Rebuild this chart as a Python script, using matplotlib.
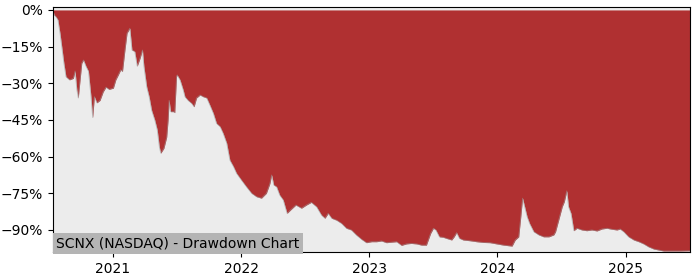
import matplotlib
matplotlib.use("Agg")
import matplotlib.pyplot as plt
import matplotlib.dates as mdates
import pandas as pd

dates = [
    "2020-07-14", "2020-07-17", "2020-07-22", "2020-07-28", "2020-08-03", "2020-08-08",
    "2020-08-14", "2020-08-20", "2020-08-30", "2020-09-10", "2020-09-15", "2020-09-20",
    "2020-09-24", "2020-10-04", "2020-10-09", "2020-10-16", "2020-10-23", "2020-10-30",
    "2020-11-04", "2020-11-09", "2020-11-16", "2020-11-25", "2020-12-04", "2020-12-12",
    "2020-12-21", "2021-01-02", "2021-01-09", "2021-01-16", "2021-01-23", "2021-01-28",
    "2021-02-04", "2021-02-10", "2021-02-18", "2021-02-24", "2021-03-04", "2021-03-11",
    "2021-03-19", "2021-03-26", "2021-03-30", "2021-04-07", "2021-04-14", "2021-04-21",
    "2021-04-30", "2021-05-07", "2021-05-13", "2021-05-17", "2021-05-26", "2021-06-03",
    "2021-06-07", "2021-06-10", "2021-06-14", "2021-06-22", "2021-06-26", "2021-07-01",
    "2021-07-03", "2021-07-11", "2021-07-20", "2021-07-25", "2021-08-03", "2021-08-13",
    "2021-08-20", "2021-08-27", "2021-09-06", "2021-09-15", "2021-09-25", "2021-10-04",
    "2021-10-14", "2021-10-23", "2021-11-02", "2021-11-11", "2021-11-21", "2021-11-30",
    "2021-12-10", "2021-12-19", "2022-01-02", "2022-01-16", "2022-01-31", "2022-02-14",
    "2022-02-28", "2022-03-14", "2022-03-24", "2022-03-29", "2022-04-04", "2022-04-12",
    "2022-04-21", "2022-05-01", "2022-05-12", "2022-05-22", "2022-06-06", "2022-06-22",
    "2022-07-06", "2022-07-20", "2022-08-04", "2022-08-18", "2022-08-28", "2022-09-06",
    "2022-09-16", "2022-09-30", "2022-10-14", "2022-10-28", "2022-11-11", "2022-11-25",
    "2022-12-10", "2022-12-24", "2023-01-08", "2023-01-22", "2023-02-05", "2023-02-19",
    "2023-03-05", "2023-03-20", "2023-04-03", "2023-04-17", "2023-05-01", "2023-05-16",
    "2023-05-30", "2023-06-13", "2023-06-25", "2023-07-03", "2023-07-10", "2023-07-20",
    "2023-07-31", "2023-08-08", "2023-08-24", "2023-08-31", "2023-09-07", "2023-09-15",
    "2023-09-26", "2023-10-15", "2023-11-03", "2023-11-22", "2023-12-11", "2023-12-30",
    "2024-01-19", "2024-02-12", "2024-02-21", "2024-03-02", "2024-03-07", "2024-03-13",
    "2024-03-19", "2024-03-26", "2024-04-02", "2024-04-14", "2024-04-28", "2024-05-12",
    "2024-05-27", "2024-06-10", "2024-06-15", "2024-06-24", "2024-07-04", "2024-07-10",
    "2024-07-17", "2024-07-22", "2024-07-29", "2024-08-06", "2024-08-15", "2024-08-29",
    "2024-09-12", "2024-09-26", "2024-10-11", "2024-10-25", "2024-11-08", "2024-11-22",
    "2024-12-07", "2024-12-16", "2024-12-26", "2025-01-09", "2025-01-24", "2025-02-07",
    "2025-02-21", "2025-03-07", "2025-03-22", "2025-04-05", "2025-04-19", "2025-05-08",
    "2025-06-06", "2025-07-03",
]

drawdown = [
    0.0, -2.0, -2.7, -4.0, -9.5, -15.0,
    -21.7, -27.3, -28.6, -28.0, -25.0, -32.7,
    -36.0, -21.8, -20.5, -23.0, -25.0, -35.0,
    -44.0, -35.5, -38.0, -37.0, -33.5, -31.6,
    -32.5, -32.0, -28.6, -26.6, -24.5, -25.2,
    -16.4, -9.5, -7.5, -16.4, -17.0, -23.0,
    -19.8, -16.4, -23.0, -31.4, -35.5, -41.0,
    -45.0, -49.0, -56.0, -58.6, -56.6, -52.0,
    -45.0, -37.0, -41.6, -41.6, -42.0, -27.3,
    -26.6, -28.6, -32.7, -35.5, -37.0, -38.2,
    -39.6, -36.0, -34.8, -35.5, -36.0, -38.9,
    -42.3, -46.4, -47.7, -50.5, -54.5, -61.4,
    -64.0, -66.8, -69.6, -72.3, -75.0, -76.4,
    -77.0, -75.0, -71.0, -67.5, -71.6, -72.3,
    -75.7, -77.7, -83.2, -81.8, -79.8, -81.1,
    -79.8, -78.7, -80.5, -83.9, -85.2, -83.2,
    -85.2, -86.0, -87.3, -89.3, -90.0, -92.0,
    -93.8, -95.2, -94.8, -94.8, -94.5, -95.2,
    -95.0, -94.8, -96.3, -95.7, -95.5, -95.7,
    -96.2, -96.2, -91.4, -89.3, -90.0, -92.8,
    -93.0, -93.4, -94.1, -92.8, -91.1, -93.4,
    -94.1, -94.4, -94.8, -95.1, -95.2, -95.7,
    -96.2, -96.6, -94.1, -92.8, -85.9, -77.0,
    -80.5, -84.6, -87.3, -90.7, -92.0, -92.8,
    -92.8, -92.0, -90.7, -85.9, -80.5, -78.4,
    -74.0, -80.5, -83.2, -90.3, -89.3, -90.0,
    -90.3, -90.0, -90.4, -89.6, -89.3, -89.7,
    -90.0, -89.6, -90.7, -92.8, -94.1, -94.8,
    -95.7, -96.9, -97.8, -98.2, -98.6, -98.6,
    -98.6, -98.5,
]

ytick_values = [0, -15, -30, -45, -60, -75, -90]
ytick_labels = ["0%", "\u221215%", "\u221230%", "\u221245%", "\u221260%", "\u221275%", "\u221290%"]
title_text = "SCNX (NASDAQ) - Drawdown Chart"

x = pd.to_datetime(dates)

fig = plt.figure(figsize=(7, 2.8), dpi=100)
ax = fig.add_axes([0.0757, 0.1, 0.91, 0.875])
ax.set_facecolor("#ececec")
ax.fill_between(x, drawdown, 0, color="#b03031", linewidth=0)
ax.plot(x, drawdown, color="#9a9a9a", linewidth=0.6, alpha=0.6)

ax.set_xlim(x[0], x[-1])
ax.set_ylim(-99.0, 1.2)
ax.set_yticks(ytick_values)
ax.set_yticklabels(ytick_labels)
ax.xaxis.set_major_locator(mdates.YearLocator())
ax.xaxis.set_major_formatter(mdates.DateFormatter("%Y"))
ax.tick_params(labelsize=10)

ax.text(0.005, 0.008, title_text, transform=ax.transAxes, fontsize=10,
        ha="left", va="bottom",
        bbox=dict(facecolor="#b4b4b4", edgecolor="none", pad=2.5))

fig.savefig("out.png", dpi=100)
